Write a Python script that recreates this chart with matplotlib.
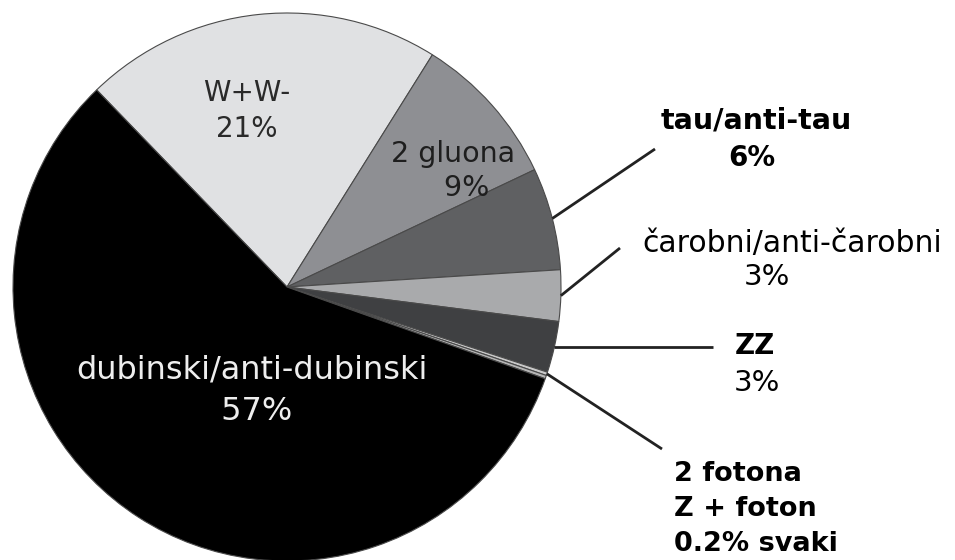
import numpy as np
import matplotlib.pyplot as plt

plt.rcParams["font.family"] = ["DejaVu Sans"]

labels = ["W+W-", "2 gluona", "tau/anti-tau", "čarobni/anti-čarobni", "ZZ",
          "2 fotona", "Z + foton", "dubinski/anti-dubinski"]
shares = [21, 9, 6, 3, 3, 0.2, 0.2, 57]
colors = ["#e0e1e3", "#8e8f93", "#5f6062", "#a9aaac", "#3f4042",
          "#c9c9c9", "#b5b5b5", "#000000"]

# pie geometry in pixels of the 955x560 figure
CX, CY, R = 287, 287, 274


def px(x, y):
    return (x - CX) / R, (CY - y) / R


fig = plt.figure(figsize=(9.55, 5.6), dpi=100)
ax = fig.add_axes([0, 0, 1, 1])
wedges, _ = ax.pie(shares, colors=colors, startangle=134, counterclock=False,
                   radius=1, center=(0, 0),
                   wedgeprops=dict(edgecolor="#4a4a4a", linewidth=0.8))
ax.set_xlim(px(0, 0)[0], px(955, 0)[0])
ax.set_ylim(px(0, 560)[1], px(0, 0)[1])
ax.set_aspect("equal")
ax.axis("off")

# labels inside the big slices
ax.text(*px(247, 111), "W+W-\n21%", ha="center", va="center", fontsize=20,
        color="#2a2a2a", linespacing=1.4)
ax.text(*px(453, 171), "2 gluona\n   9%", ha="center", va="center",
        fontsize=20.5, color="#1e1e1e", linespacing=1.29)
ax.text(*px(252, 391), "dubinski/anti-dubinski\n 57%", ha="center",
        va="center", fontsize=23, color="#eeeeee", linespacing=1.42)


def leader(idx, end, flat=False):
    w = wedges[idx]
    mid = np.deg2rad((w.theta1 + w.theta2) / 2)
    x0, y0 = np.cos(mid), np.sin(mid)
    x1, y1 = px(*end)
    if flat:
        y1 = y0
    ax.plot([x0, x1], [y0, y1], color="#222222", lw=2, solid_capstyle="butt")


leader(2, (655, 149))
leader(3, (620, 248))
leader(4, (713, 351), flat=True)
leader(5, (662, 449))

ax.text(*px(756, 120), "tau/anti-tau", ha="center", va="center",
        fontsize=20.5, fontweight="bold")
ax.text(*px(752, 158), "6%", ha="center", va="center", fontsize=20,
        fontweight="bold")
ax.text(*px(792, 243), "čarobni/anti-čarobni", ha="center", va="center",
        fontsize=21.5)
ax.text(*px(767, 277), "3%", ha="center", va="center", fontsize=21)
ax.text(*px(755, 346), "ZZ", ha="center", va="center", fontsize=20,
        fontweight="bold")
ax.text(*px(757, 383), "3%", ha="center", va="center", fontsize=21)
ax.text(*px(674, 509), "2 fotona\nZ + foton\n0.2% svaki", ha="left",
        va="center", fontsize=19.5, fontweight="bold", linespacing=1.45)

fig.savefig("out.png", dpi=100)
